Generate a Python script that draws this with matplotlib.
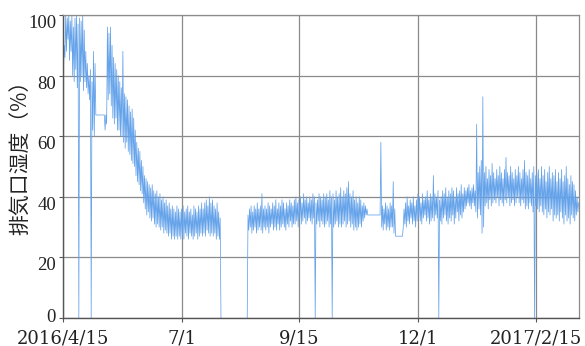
import numpy as np
import pandas as pd
import matplotlib
matplotlib.use("Agg")
import matplotlib.pyplot as plt
from matplotlib.transforms import ScaledTranslation

start_date = "2016-04-15"
end_date = "2017-03-15"
nan = float("nan")

# daily maximum humidity (%); nan = no data
daily_high = [
    90, 100, 99, 100, 98, 100, 96, 99, 100, 97,
    99, 98, 100, 95, 88, 84, 80, 82, 78, 88,
    84, 67, 67, 67, 67, 67, 67, 67, 96, 94,
    96, 90, 86, 84, 82, 80, 78, 76, 88, 74,
    73, 72, 70, 68, 69, 66, 62, 58, 56, 55,
    52, 50, 47, 46, 45, 44, 43, 44, 42, 41,
    42, 40, 41, 39, 40, 38, 39, 37, 38, 36,
    37, 36, 35, 37, 36, 35, 36, 37, 35, 36,
    37, 35, 36, 34, 37, 36, 35, 37, 36, 38,
    36, 38, 39, 37, 40, 38, 39, 37, 36, 38,
    35, 33, nan, nan, nan, nan, nan, nan, nan, nan,
    nan, nan, nan, nan, nan, nan, nan, nan, nan, 34,
    36, 37, 35, 37, 36, 38, 36, 37, 41, 36,
    37, 36, 38, 37, 36, 38, 37, 39, 36, 38,
    37, 39, 38, 36, 38, 37, 39, 38, 37, 39,
    40, 38, 39, 40, 38, 41, 39, 40, 38, 40,
    39, 41, 40, 38, 39, 41, 40, 39, 41, 40,
    41, 39, 42, 40, 41, 39, 42, 40, 41, 43,
    40, 42, 41, 43, 45, 41, 40, 42, 39, 40,
    38, 40, 39, 37, 38, 37, 36, 34, 34, 34,
    34, 34, 34, 34, 34, 58, 37, 36, 38, 37,
    36, 38, 37, 45, 36, 27, 27, 27, 27, 27,
    36, 38, 40, 37, 39, 38, 40, 37, 39, 41,
    40, 38, 41, 39, 40, 42, 39, 41, 40, 47,
    41, 40, 42, 39, 40, 42, 41, 43, 40, 42,
    41, 43, 42, 40, 43, 41, 42, 44, 41, 43,
    42, 43, 44, 42, 43, 44, 42, 64, 48, 50,
    52, 73, 48, 50, 46, 49, 47, 51, 48, 46,
    49, 47, 50, 48, 46, 49, 53, 48, 47, 50,
    48, 46, 49, 47, 50, 48, 46, 49, 52, 48,
    47, 49, 46, 48, 50, 47, 48, 49, 46, 50,
    47, 49, 45, 48, 50, 46, 48, 47, 49, 45,
    48, 46, 49, 45, 47, 50, 46, 44, 47, 45,
    44, 42, 40, 38,
]

# daily minimum humidity (%); 0 = sensor dropout, nan = no data
daily_low = [
    80, 86, 88, 92, 85, 88, 80, 78, 82, 76,
    0, 78, 80, 75, 78, 76, 74, 72, 0, 62,
    60, 67, 67, 67, 67, 67, 67, 62, 64, 72,
    74, 70, 66, 64, 66, 62, 62, 60, 60, 58,
    56, 58, 55, 54, 52, 51, 50, 47, 45, 44,
    42, 41, 38, 36, 34, 35, 33, 32, 33, 31,
    30, 31, 30, 29, 30, 28, 29, 28, 27, 28,
    26, 27, 26, 27, 26, 27, 26, 27, 26, 28,
    27, 26, 28, 27, 26, 27, 28, 26, 27, 28,
    27, 28, 27, 29, 28, 27, 28, 27, 28, 26,
    27, 26, 0, nan, nan, nan, nan, nan, nan, nan,
    nan, nan, nan, nan, nan, nan, nan, nan, nan, 0,
    29, 30, 28, 29, 30, 28, 29, 30, 29, 28,
    30, 29, 30, 28, 30, 31, 29, 30, 29, 31,
    29, 30, 31, 30, 29, 31, 30, 32, 30, 31,
    31, 32, 30, 33, 31, 32, 33, 31, 32, 33,
    32, 31, 33, 0, 31, 32, 30, 32, 31, 30,
    31, 32, 30, 31, 0, 30, 31, 32, 30, 31,
    30, 31, 32, 30, 31, 32, 30, 31, 29, 30,
    29, 30, 31, 30, 32, 33, 34, 34, 34, 34,
    34, 34, 34, 34, 34, 34, 30, 29, 31, 29,
    30, 29, 30, 30, 28, 27, 27, 27, 27, 27,
    30, 31, 30, 32, 31, 33, 31, 32, 30, 32,
    33, 32, 31, 33, 34, 32, 33, 31, 32, 33,
    32, 34, 33, 0, 32, 31, 33, 34, 32, 31,
    33, 32, 34, 31, 33, 35, 32, 34, 33, 35,
    36, 37, 38, 37, 36, 38, 37, 35, 33, 36,
    34, 28, 30, 37, 38, 36, 39, 37, 38, 39,
    38, 40, 37, 39, 38, 37, 39, 38, 40, 37,
    38, 39, 37, 38, 40, 38, 37, 39, 38, 36,
    37, 36, 38, 37, 35, 0, 37, 36, 35, 37,
    35, 34, 36, 33, 35, 34, 36, 32, 34, 33,
    34, 32, 35, 33, 31, 34, 32, 33, 31, 34,
    33, 32, 34, 35,
]

tick_dates = ["2016-04-15", "2016-07-01", "2016-09-15", "2016-12-01", "2017-02-15"]
tick_labels = ["2016/4/15", "7/1", "9/15", "12/1", "2017/2/15"]
y_ticks = [0, 20, 40, 60, 80, 100]
y_label = "排気口湿度（%）"

# interleave low / high readings within each day
n = min(len(daily_high), len(daily_low))
base = pd.Timestamp(start_date)
times, vals = [], []
for i in range(n):
    times.append(base + pd.Timedelta(hours=24 * i + 6))
    vals.append(daily_low[i])
    times.append(base + pd.Timedelta(hours=24 * i + 18))
    vals.append(daily_high[i])

fig = plt.figure(figsize=(5.85, 3.46), dpi=100)
ax = fig.add_axes([63 / 585, 1 - 318 / 346, (579 - 63) / 585, (318 - 15) / 346])

ax.plot(times, vals, color="#64a2ea", lw=0.55, zorder=2)

ax.set_xlim(pd.Timestamp(start_date), pd.Timestamp(end_date))
ax.set_ylim(0, 100)
ax.set_xticks([pd.Timestamp(d) for d in tick_dates])
ax.set_xticklabels(tick_labels)
ax.set_yticks(y_ticks)
ax.set_yticklabels([str(v) for v in y_ticks])

ax.grid(True, color="#8a8a8a", lw=0.9)
ax.set_axisbelow(True)
for side in ["top", "right"]:
    ax.spines[side].set_color("#8a8a8a")
    ax.spines[side].set_linewidth(0.9)
for side in ["left", "bottom"]:
    ax.spines[side].set_color("#555555")
    ax.spines[side].set_linewidth(1.0)

ax.tick_params(axis="both", length=3, color="#555555", labelcolor="#222222")
ax.tick_params(axis="y", pad=2, labelsize=13.5)
ax.tick_params(axis="x", pad=5, labelsize=13)
for lab in ax.get_xticklabels():
    lab.set_fontfamily("DejaVu Serif")
for lab, v in zip(ax.get_yticklabels(), y_ticks):
    lab.set_fontfamily("Liberation Serif")
    if v > 0:
        lab.set_verticalalignment("top")
    else:
        lab.set_verticalalignment("baseline")
        lab.set_transform(lab.get_transform() + ScaledTranslation(0, -4 / 100, fig.dpi_scale_trans))

ax.set_ylabel(y_label, fontsize=15, family=["Noto Sans CJK JP", "DejaVu Sans"],
              color="#222222")
ax.yaxis.set_label_coords(-0.062, 0.545)

fig.savefig("out.png", dpi=100)
